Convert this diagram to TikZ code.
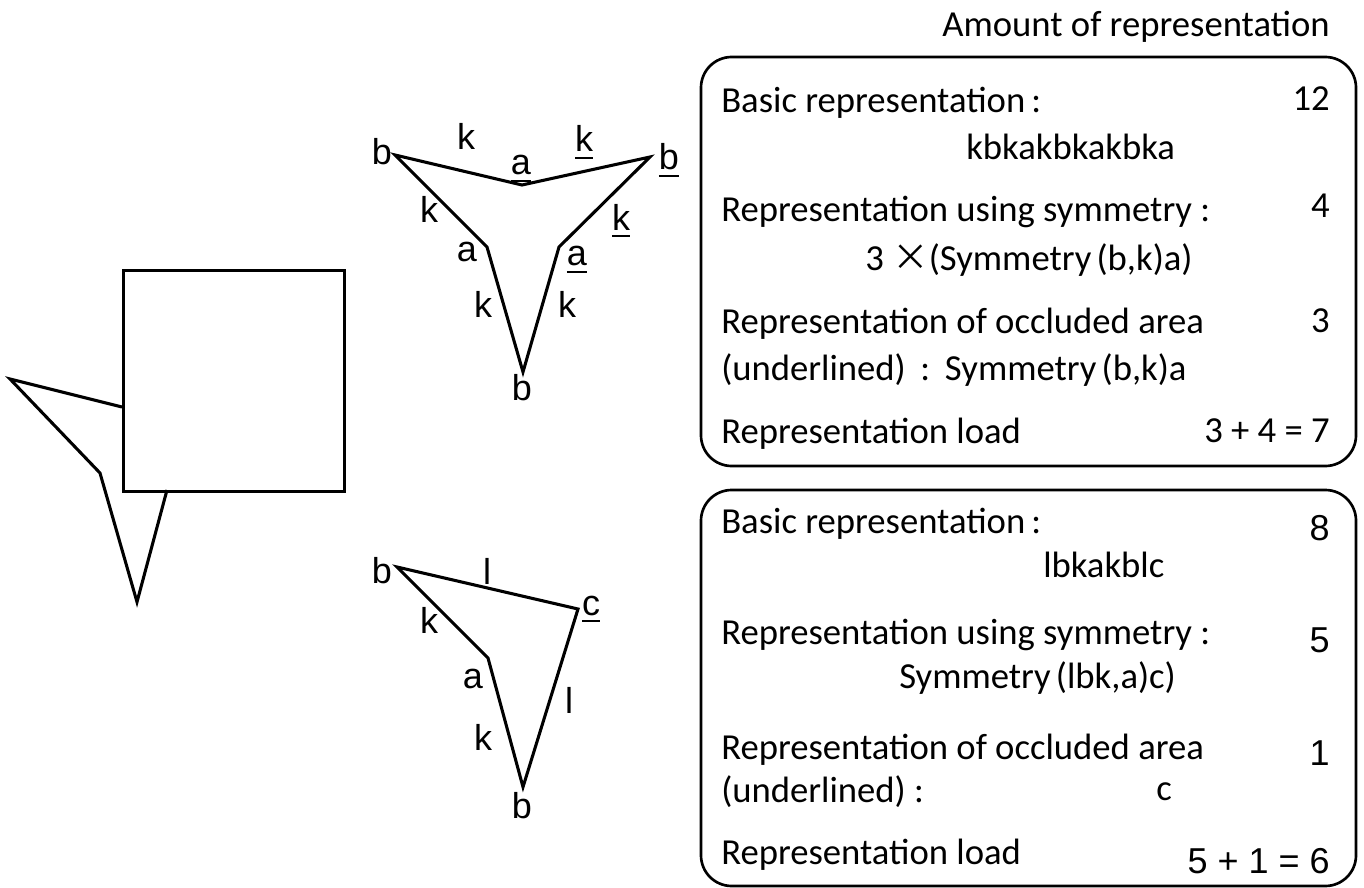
\documentclass[tikz,border=0pt]{standalone}
\usepackage{fontspec}
\setmainfont{Carlito}
\newfontfamily\arialfont{Liberation Sans}
\newfontfamily\cjk{Noto Sans CJK JP}
% underlined label letter
\newcommand{\ulc}[1]{\setbox0\hbox{#1}\rlap{\rule[-5pt]{\wd0}{1.6pt}}\box0}
% opening parenthesis after a small gap
\newcommand{\wparen}{\hspace{0.14em}(}
\begin{document}
\begin{tikzpicture}[x=0.75pt,y=-0.75pt,
  outline/.style={line width=2.3pt, line join=miter},
  lbl/.style={font=\arialfont\fontsize{27}{32}\selectfont, inner sep=0pt, anchor=base},
  txt/.style={font=\fontsize{27.5}{33}\selectfont, inner sep=0pt, anchor=base west},
  num/.style={font=\fontsize{27.5}{33}\selectfont, inner sep=0pt, anchor=base east},
  anum/.style={font=\arialfont\fontsize{27}{32}\selectfont, inner sep=0pt, anchor=base east},
  panel/.style={draw, line width=2pt, rounded corners=23pt}]
\useasboundingbox (0,0) rectangle (1364,888);

% ---- occluded figure: square in front of a three-pointed shape ----
\coordinate (o1) at (122,407);
\coordinate (o2) at (10,379);
\coordinate (o3) at (100,473);
\coordinate (o4) at (137,602);
\coordinate (o5) at (167,490);
\draw[outline] (o1) -- (o2) -- (o3) -- (o4) -- (o5);
\node[draw, line width=2.3pt, minimum width=221*0.75pt, minimum height=221*0.75pt,
      inner sep=0pt, anchor=north west] (sq) at (122,269) {};

% ---- completion 1: symmetric three-pointed star ----
\coordinate (B1) at (395,155);
\coordinate (A1) at (522,185);
\coordinate (B2) at (650,157);
\coordinate (A2) at (559,247);
\coordinate (B3) at (523,372);
\coordinate (A3) at (487,247);
\draw[outline] (B1) -- (A1) -- (B2) -- (A2) -- (B3) -- (A3) -- cycle;

\node[lbl] (sb1) at (382,165) {b};
\node[lbl] (sk1) at (466,150) {k};
\node[lbl] (sa1) at (521,175) {\ulc{a}};
\node[lbl] (sk2) at (584,152) {\ulc{k}};
\node[lbl] (sb2) at (669,170) {\ulc{b}};
\node[lbl] (sk3) at (429,223) {k};
\node[lbl] (sk4) at (621,230) {\ulc{k}};
\node[lbl] (sa2) at (467,262) {a};
\node[lbl] (sa3) at (577,266) {\ulc{a}};
\node[lbl] (sk5) at (483,317) {k};
\node[lbl] (sk6) at (567,317) {k};
\node[lbl] (sb3) at (522,400) {b};

% ---- completion 2: asymmetric shape ----
\coordinate (C1) at (397,567);
\coordinate (C2) at (578,609);
\coordinate (C3) at (523,787);
\coordinate (C4) at (488,658);
\draw[outline] (C1) -- (C2) -- (C3) -- (C4) -- cycle;

\node[lbl] (tb1) at (382,583) {b};
\node[lbl] (tl1) at (487,584) {l};
\node[lbl] (tc1) at (591,615) {\ulc{c}};
\node[lbl] (tk1) at (429,633) {k};
\node[lbl] (ta1) at (473,688) {a};
\node[lbl] (tl2) at (569,713) {l};
\node[lbl] (tk2) at (483,750) {k};
\node[lbl] (tb2) at (522,818) {b};

% ---- heading ----
\node[num] (head) at (1330,37) {Amount of representation};

% ---- panel 1 ----
\draw[panel] (701,57) rectangle (1356,466);
\node[txt] (p1a) at (721,113) {Basic representation\,:};
\node[num] (p1an) at (1330,111) {12};
\node[txt] (p1b) at (966,160) {kbkakbkakbka};
\node[txt] (p1c) at (721,222) {Representation using symmetry :};
\node[num] (p1cn) at (1330,218) {4};
\node[txt] (p1d) at (865,270) {3 {\cjk ×}(Symmetry\wparen b,k)a)};
\node[txt] (p1e) at (721,333) {Representation of occluded area};
\node[num] (p1en) at (1330,332) {3};
\node[txt] (p1f) at (721,380) {(underlined)\hspace{0.4em}:\hspace{0.4em}Symmetry\wparen b,k)a};
\node[txt] (p1g) at (721,443) {Representation load};
\node[num] (p1gn) at (1330,442) {3 + 4 = 7};

% ---- panel 2 ----
\draw[panel] (701,490) rectangle (1356,886);
\node[txt] (p2a) at (721,533) {Basic representation\,:};
\node[anum] (p2an) at (1330,540) {8};
\node[txt] (p2b) at (1043,577) {lbkakblc};
\node[txt] (p2c) at (721,644) {Representation using symmetry :};
\node[anum] (p2cn) at (1330,652) {5};
\node[txt] (p2d) at (899,688) {Symmetry\wparen lbk,a)c)};
\node[txt] (p2e) at (721,759) {Representation of occluded area};
\node[anum] (p2en) at (1330,765) {1};
\node[txt] (p2f) at (721,802) {(underlined) :};
\node[txt] (p2fc) at (1156,800) {c};
\node[txt] (p2g) at (721,864) {Representation load};
\node[anum] (p2gn) at (1330,873) {5 + 1 = 6};
\end{tikzpicture}
\end{document}
